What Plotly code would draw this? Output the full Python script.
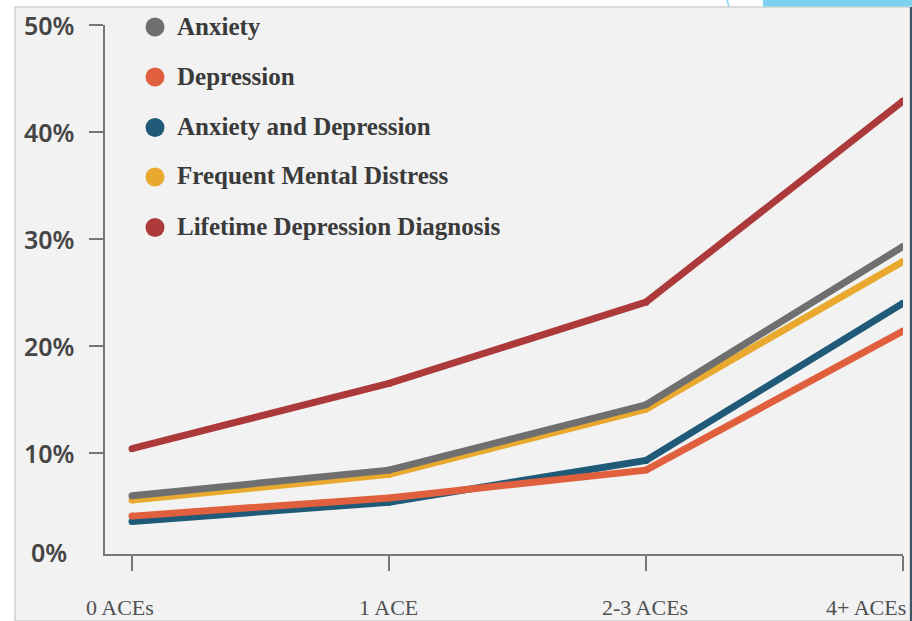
import plotly.graph_objects as go

categories = ["0 ACEs", "1 ACE", "2-3 ACEs", "4+ ACEs"]
anxiety = [6.0, 8.4, 14.5, 29.3]
depression = [4.1, 5.8, 8.4, 21.4]
anx_dep = [3.6, 5.4, 9.3, 24.0]
freq_distress = [5.6, 8.0, 14.1, 27.9]
lifetime_dx = [10.4, 16.5, 24.1, 42.9]
y_ticks = [0, 10, 20, 30, 40, 50]
y_tick_labels = ["0%", "10%", "20%", "30%", "40%", "50%"]

series = [
    ("Frequent Mental Distress", freq_distress, "#e8a92e"),
    ("Anxiety", anxiety, "#6f6f6f"),
    ("Anxiety and Depression", anx_dep, "#1f5a78"),
    ("Depression", depression, "#e0603e"),
    ("Lifetime Depression Diagnosis", lifetime_dx, "#ad3a3b"),
]
legend_order = ["Anxiety", "Depression", "Anxiety and Depression",
                "Frequent Mental Distress", "Lifetime Depression Diagnosis"]
colors = {n: c for n, _, c in series}

W, H = 912, 621
L, R, T, B = 105, 9, 25, 67
PW, PH = W - L - R, H - T - B


def px(x):
    return (x - L) / PW


def py(y):
    return (H - B - y) / PH


xs = list(range(len(categories)))
fig = go.Figure()
for name, vals, col in series:
    fig.add_trace(go.Scatter(
        x=xs, y=vals, mode="lines+markers", name=name,
        line=dict(color=col, width=7),
        marker=dict(color=col, size=7, line=dict(width=0)),
        showlegend=False, hoverinfo="skip"))

shapes = [
    dict(type="rect", xref="paper", yref="paper", x0=px(15), x1=px(910),
         y0=py(7), y1=py(621), fillcolor="#f2f2f2",
         line=dict(color="#d0d0d0", width=1.5), layer="below"),
    dict(type="rect", xref="paper", yref="paper", x0=px(763), x1=px(912),
         y0=py(0), y1=py(6.5), fillcolor="#7dd0ef", line=dict(width=0), layer="below"),
    dict(type="line", xref="paper", yref="paper", x0=px(727), x1=px(729),
         y0=py(0), y1=py(6.5), line=dict(color="#9fdcf3", width=2), layer="below"),
    dict(type="line", xref="paper", yref="paper", x0=px(911), x1=px(911),
         y0=py(7), y1=py(621), line=dict(color="#3d5566", width=2), layer="below"),
]

annotations = []
legend_rows = [27, 77, 127.5, 177, 227.5]
for name, ry in zip(legend_order, legend_rows):
    shapes.append(dict(type="circle", xref="paper", yref="paper",
                       x0=px(145.5), x1=px(164.5), y0=py(ry - 9.5), y1=py(ry + 9.5),
                       fillcolor=colors[name], line=dict(width=0)))
    annotations.append(dict(x=px(175), y=py(ry - 1), xref="paper", yref="paper",
                            text=name, showarrow=False, xanchor="left", yanchor="middle",
                            font=dict(family="Liberation Serif", size=25, color="#3a3a3a",
                                      weight="bold")))

# y tick labels (centered, as in the reference)
ymin, ymax = 0.56, 50
for v, t in zip(y_ticks, y_tick_labels):
    yy = (v - ymin) / (ymax - ymin)
    if v == 0:
        yy = py(552)
    annotations.append(dict(x=px(49), y=yy, xref="paper", yref="paper", text=t,
                            showarrow=False, xanchor="center", yanchor="middle",
                            font=dict(family="Noto Sans", size=25, color="#454545",
                                      weight=600)))

# x tick labels
x_label_centers = [120, 388, 645, 866]
for cx, t in zip(x_label_centers, categories):
    annotations.append(dict(x=px(cx), y=py(607), xref="paper", yref="paper", text=t,
                            showarrow=False, xanchor="center", yanchor="middle",
                            font=dict(family="Liberation Serif", size=22, color="#505050")))

fig.update_layout(
    width=W, height=H, margin=dict(l=L, r=R, t=T, b=B),
    paper_bgcolor="white", plot_bgcolor="rgba(0,0,0,0)",
    shapes=shapes, annotations=annotations, showlegend=False,
    xaxis=dict(range=[-27 / 257.0, 3], tickvals=xs, showticklabels=False,
               ticks="outside", ticklen=15, tickwidth=2, tickcolor="#777777",
               showline=True, linecolor="#777777", linewidth=2, showgrid=False,
               zeroline=False, fixedrange=True),
    yaxis=dict(range=[ymin, ymax], tickvals=y_ticks[1:], showticklabels=False,
               ticks="outside", ticklen=14, tickwidth=2, tickcolor="#777777",
               showline=True, linecolor="#777777", linewidth=2, showgrid=False,
               zeroline=False, fixedrange=True),
)

fig.write_html("out.html")
